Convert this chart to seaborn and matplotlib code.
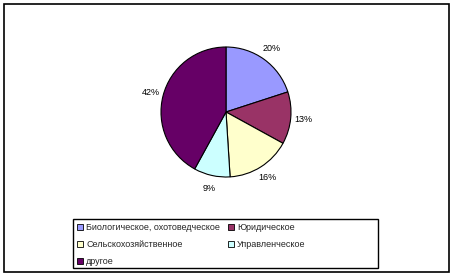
import matplotlib
matplotlib.use("Agg")
import matplotlib.pyplot as plt
import seaborn as sns
from matplotlib.patches import Rectangle

categories = ["Биологическое, охотоведческое", "Юридическое", "Сельскохозяйственное",
              "Управленческое", "другое"]
values = [20, 13, 16, 9, 42]
colors = ["#9999FF", "#993366", "#FFFFCC", "#CCFFFF", "#660066"]

sns.set_theme(style="white")
plt.rcParams["font.family"] = ["Liberation Sans", "DejaVu Sans"]

W, H = 454, 277
fig = plt.figure(figsize=(W / 100, H / 100), dpi=100)
ax = fig.add_axes([0, 0, 1, 1])

pal = sns.color_palette(colors)
wedges, texts, autotexts = ax.pie(
    values, colors=pal, startangle=90, counterclock=False,
    center=(226, H - 112), radius=65, frame=True,
    autopct=lambda p: f"{p:.0f}%", pctdistance=1.2,
    wedgeprops=dict(edgecolor="black", linewidth=0.8),
    textprops=dict(fontsize=6.5, color="black"))
ax.set_xlim(0, W)
ax.set_ylim(0, H)
ax.set_aspect("equal")
ax.axis("off")

# outer chart border
ax.add_patch(Rectangle((4, H - 272), 445, 268, fill=False, edgecolor="black",
                       linewidth=1.2))
# legend frame
ax.add_patch(Rectangle((73, H - 268), 305, 49, fill=False, edgecolor="black",
                       linewidth=1.0))

order = [0, 2, 4, 1, 3]
leg = fig.legend([wedges[i] for i in order], [categories[i] for i in order],
                 ncol=2, loc="upper left",
                 bbox_to_anchor=(73 / W, 1 - 219 / H),
                 fontsize=6.5, frameon=False,
                 handlelength=0.7, handleheight=0.7, handletextpad=0.3,
                 columnspacing=0.9, labelspacing=0.9, borderpad=0.45,
                 borderaxespad=0)
for h in leg.legend_handles:
    h.set_edgecolor("black")
    h.set_linewidth(0.6)

fig.savefig("out.png", dpi=100)
